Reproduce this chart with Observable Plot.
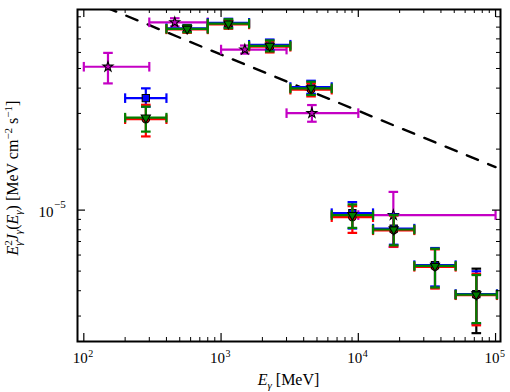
<!DOCTYPE html>
<html><head><meta charset="utf-8">
<script src="https://cdn.jsdelivr.net/npm/d3@7"></script>
<script src="https://cdn.jsdelivr.net/npm/@observablehq/plot@0.6"></script>
<style>body{margin:0;background:#fff} svg text{font-family:'Liberation Serif','Times New Roman',serif}</style>
</head><body><div id="chart"></div>
<script>
// ---- data (energies in MeV, E^2 J in MeV cm^-2 s^-1) ----
const binCenter = [283, 566, 1131, 2263, 4525, 9051, 18102, 36204, 72408];
const binLow    = [200, 400, 800, 1600, 3200, 6400, 12800, 25600, 51200];
const binHigh   = [400, 800, 1600, 3200, 6400, 12800, 25600, 51200, 102400];

const blueFlux = [3.57e-5, 7.9e-5, 8.4e-5, 6.55e-5, 4.05e-5, 9.66e-6, 8.1e-6, 5.35e-6, 3.85e-6];
const blueHigh = [3.99e-5, 8.2e-5, 8.8e-5, 6.95e-5, 4.35e-5, 1.095e-5, 9.5e-6, 6.5e-6, 4.99e-6];
const blueLow  = [3.24e-5, 7.6e-5, 8.0e-5, 6.15e-5, 3.75e-5, 8.11e-6, 6.75e-6, 4.2e-6, 2.75e-6];

const redFlux = [2.81e-5, 7.8e-5, 8.25e-5, 6.4e-5, 3.93e-5, 9.23e-6, 7.95e-6, 5.25e-6, 3.8e-6];
const redHigh = [3.31e-5, 8.1e-5, 8.65e-5, 6.8e-5, 4.22e-5, 1.046e-5, 9.4e-6, 6.4e-6, 4.85e-6];
const redLow  = [2.31e-5, 7.5e-5, 7.85e-5, 6.0e-5, 3.64e-5, 7.72e-6, 6.6e-6, 4.1e-6, 2.7e-6];

const greenFlux = [2.86e-5, 7.85e-5, 8.33e-5, 6.46e-5, 3.99e-5, 9.45e-6, 8.02e-6, 5.3e-6, 3.83e-6];
const greenHigh = [3.24e-5, 8.15e-5, 8.75e-5, 6.88e-5, 4.3e-5, 1.067e-5, 9.45e-6, 6.45e-6, 4.78e-6];
const greenLow  = [2.44e-5, 7.55e-5, 7.9e-5, 6.07e-5, 3.7e-5, 8.17e-6, 6.7e-6, 4.15e-6, 2.77e-6];

const blackCenter = [72408];
const blackLowE = [51200];
const blackHighE = [102400];
const blackFlux = [3.83e-6];
const blackHigh = [5.14e-6];
const blackLow  = [2.47e-6];

const starCenter = [150, 460, 1490, 4590, 18000];
const starLowE   = [100, 300, 1000, 3000, 10000];
const starHighE  = [300, 800, 3000, 10000, 100000];
const starFlux = [5.1e-5, 8.45e-5, 6.2e-5, 3.01e-5, 9.45e-6];
const starHigh = [5.97e-5, 8.85e-5, 6.49e-5, 3.3e-5, 1.23e-5];
const starLow  = [4.22e-5, 8.07e-5, 5.92e-5, 2.73e-5, 6.58e-6];

const lineEnergy = [100, 100000];
const lineFlux = [1.11e-4, 1.63e-5];

const xTickValues = [1e2, 1e3, 1e4, 1e5];
const xTickExp = ["2", "3", "4", "5"];
const yTickValues = [1e-5];
const yTickExp = ["\u22125"];

// ---- layout ----
const W = 510, H = 392, mL = 77, mR = 10, mT = 9, mB = 51;
const plotW = W - mL - mR, plotH = H - mT - mB;
const xDomain = [Math.pow(10, 1.954), Math.pow(10, 5.036)];
const yDomain = [Math.pow(10, -5.6485), Math.pow(10, -4.0099)];

function rows(c, el, eh, f, hi, lo) {
  return c.map((e, i) => ({e, elo: el[i], ehi: eh[i], f: f[i], hi: hi[i], lo: lo[i]}));
}
const hcap = {draw(ctx, size) { const r = Math.sqrt(size / Math.PI); ctx.moveTo(-r, 0); ctx.lineTo(r, 0); }};
const vcap = {draw(ctx, size) { const r = Math.sqrt(size / Math.PI); ctx.moveTo(0, -r); ctx.lineTo(0, r); }};

function series(data, color, symbol, r, extra = {}) {
  const lw = 2.2, capR = 4.8;
  return [
    Plot.link(data, {x1: "e", x2: "e", y1: "lo", y2: "hi", stroke: color, strokeWidth: lw}),
    Plot.link(data, {x1: "elo", x2: "ehi", y1: "f", y2: "f", stroke: color, strokeWidth: lw}),
    Plot.dot(data, {x: "e", y: "lo", symbol: hcap, r: capR, fill: "none", stroke: color, strokeWidth: lw}),
    Plot.dot(data, {x: "e", y: "hi", symbol: hcap, r: capR, fill: "none", stroke: color, strokeWidth: lw}),
    Plot.dot(data, {x: "elo", y: "f", symbol: vcap, r: capR, fill: "none", stroke: color, strokeWidth: lw}),
    Plot.dot(data, {x: "ehi", y: "f", symbol: vcap, r: capR, fill: "none", stroke: color, strokeWidth: lw}),
    symbol ? Plot.dot(data, {x: "e", y: "f", symbol, r, fill: color, stroke: "black", strokeWidth: 1.1, ...extra}) : null
  ];
}

const xMinor = [];
for (const d of [100, 1000, 10000]) for (let k = 2; k <= 9; k++) xMinor.push(k * d);
const yMinor = [];
for (const d of [1e-6, 1e-5]) for (let k = 2; k <= 9; k++) { const v = k * d; if (v > yDomain[0] && v < yDomain[1]) yMinor.push(v); }

const serif = "'Liberation Serif', 'Times New Roman', serif";

const chart = Plot.plot({
  width: W, height: H,
  marginLeft: mL, marginRight: mR, marginTop: mT, marginBottom: mB,
  style: {background: "white"},
  x: {type: "log", domain: xDomain, axis: null},
  y: {type: "log", domain: yDomain, axis: null},
  marks: [
    Plot.line(lineEnergy.map((e, i) => ({e, f: lineFlux[i]})), {x: "e", y: "f", stroke: "black", strokeWidth: 2.4, strokeDasharray: "12,11", clip: true}),
    ...series(rows(starCenter, starLowE, starHighE, starFlux, starHigh, starLow), "#c400c4", "star", 3.1),
    ...series(rows(blackCenter, blackLowE, blackHighE, blackFlux, blackHigh, blackLow), "black", null, 0),
    ...series(rows(binCenter, binLow, binHigh, blueFlux, blueHigh, blueLow), "#0000ff", "square", 4.1),
    ...series(rows(binCenter, binLow, binHigh, redFlux, redHigh, redLow), "#ff0000", "circle", 3.7),
    ...series(rows(binCenter, binLow, binHigh, greenFlux, greenHigh, greenLow), "#008000", "triangle", 3.4, {rotate: 180}),
    // ticks (inward, all four sides)
    Plot.ruleX(xTickValues, {x: d => d, insetTop: plotH - 8, stroke: "black", strokeWidth: 1.2}),
    Plot.ruleX(xTickValues, {x: d => d, insetBottom: plotH - 8, stroke: "black", strokeWidth: 1.2}),
    Plot.ruleX(xMinor, {x: d => d, insetTop: plotH - 4, stroke: "black", strokeWidth: 1}),
    Plot.ruleX(xMinor, {x: d => d, insetBottom: plotH - 4, stroke: "black", strokeWidth: 1}),
    Plot.ruleY(yTickValues, {y: d => d, insetRight: plotW - 8, stroke: "black", strokeWidth: 1.2}),
    Plot.ruleY(yTickValues, {y: d => d, insetLeft: plotW - 8, stroke: "black", strokeWidth: 1.2}),
    Plot.ruleY(yMinor, {y: d => d, insetRight: plotW - 4, stroke: "black", strokeWidth: 1}),
    Plot.ruleY(yMinor, {y: d => d, insetLeft: plotW - 4, stroke: "black", strokeWidth: 1}),
    Plot.frame({stroke: "black", strokeWidth: 2}),
    // tick labels
    Plot.text(xTickValues, {x: d => d, text: () => "10", frameAnchor: "bottom", lineAnchor: "bottom", textAnchor: "end", dx: 4, dy: 21, fontSize: 15, fontFamily: serif, fill: "black"}),
    Plot.text(xTickValues, {x: d => d, text: (d, i) => xTickExp[i], frameAnchor: "bottom", lineAnchor: "bottom", textAnchor: "start", dx: 4.5, dy: 15, fontSize: 10, fontFamily: serif, fill: "black"}),
    Plot.text(yTickValues, {y: d => d, text: () => "10", frameAnchor: "left", lineAnchor: "bottom", textAnchor: "end", dx: -24, dy: 7, fontSize: 15, fontFamily: serif, fill: "black"}),
    Plot.text(yTickValues, {y: d => d, text: (d, i) => yTickExp[i], frameAnchor: "left", lineAnchor: "bottom", textAnchor: "start", dx: -23.5, dy: -2, fontSize: 11, fontFamily: serif, fill: "black"})
  ]
});
document.getElementById("chart").appendChild(chart);

// axis titles with sub/superscripts
const svg = d3.select(chart);
function addParts(t, parts) {
  for (const p of parts) {
    const s = t.append("tspan").text(p.t);
    if (p.it) s.attr("font-style", "italic");
    if (p.fs) s.attr("font-size", p.fs);
    if (p.dx != null) s.attr("dx", p.dx);
    if (p.dy != null) s.attr("dy", p.dy);
  }
}
const yl = svg.append("text")
  .attr("transform", "translate(18,178) rotate(-90)")
  .attr("text-anchor", "middle").style("font-family", serif).attr("font-size", 16).attr("fill", "black");
addParts(yl, [
  {t: "E", it: true},
  {t: "2", fs: 11, dy: -6},
  {t: "\u03b3", it: true, fs: 11, dx: -5.5, dy: 10},
  {t: "J", it: true, dy: -4},
  {t: "\u03b3", it: true, fs: 11, dy: 4},
  {t: "(", dy: -4},
  {t: "E", it: true},
  {t: "\u03b3", it: true, fs: 11, dy: 4},
  {t: ") [MeV cm", dy: -4},
  {t: "\u22122", fs: 11, dy: -6},
  {t: " s", dy: 6},
  {t: "\u22121", fs: 11, dy: -6},
  {t: "]", dy: 6}
]);
const xl = svg.append("text")
  .attr("transform", "translate(288.5,385)")
  .attr("text-anchor", "middle").style("font-family", serif).attr("font-size", 16).attr("fill", "black");
addParts(xl, [
  {t: "E", it: true},
  {t: "\u03b3", it: true, fs: 11, dy: 4},
  {t: " [MeV]", dy: -4}
]);
</script>
</body></html>
